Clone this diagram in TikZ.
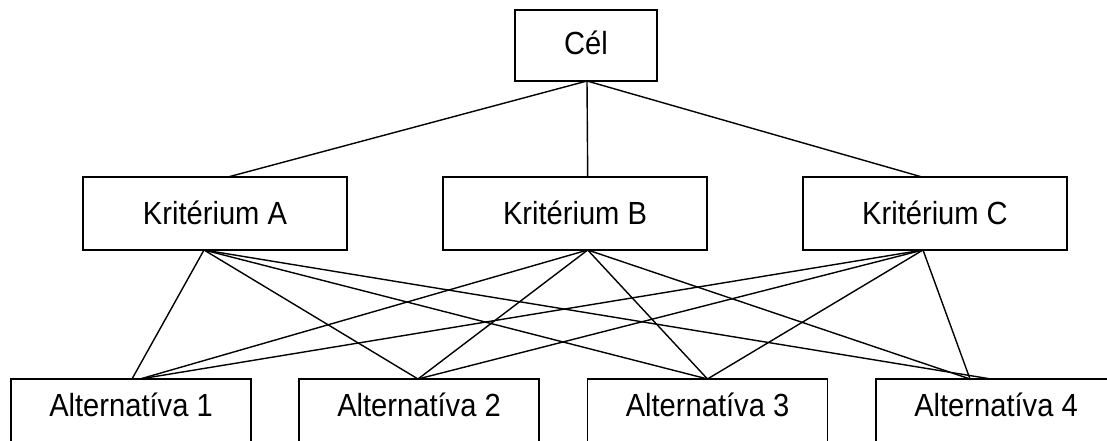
\documentclass[tikz,border=0pt]{standalone}
\usepackage{fontspec}
\setmainfont{Liberation Sans}[FakeStretch=0.91]
\usetikzlibrary{calc}
\begin{document}
\begin{tikzpicture}[x=0.75pt,y=-0.75pt,
  box/.style={draw=black,line width=1.2pt,fill=white,inner sep=0pt,outer sep=0pt,
    font=\fontsize{24pt}{28pt}\selectfont,align=center},
  goalbox/.style={box,minimum width=106.5pt,minimum height=53.25pt,text height=17pt,text depth=3.75pt},
  critbox/.style={box,minimum width=198pt,minimum height=54.75pt,text height=17pt,text depth=0pt},
  altbox/.style={box,minimum width=180pt,minimum height=54pt,text height=17pt,text depth=15pt},
  link/.style={draw=black,line width=1.05pt}]
\useasboundingbox (0,0) rectangle (1107,441);
\clip (0,0) rectangle (1107,441);

% goal, criteria and alternatives
\node[goalbox] (cel) at (586,45.5) {Cél};
\node[critbox] (ka) at (215,213.5) {Kritérium A};
\node[critbox] (kb) at (575,213.5) {Kritérium B};
\node[critbox] (kc) at (935,213.5) {Kritérium C};
\node[altbox] (a1) at (131,415) {Alternatíva 1};
\node[altbox] (a2) at (419,415) {Alternatíva 2};
\node[altbox] (a3) at (707.5,415) {Alternatíva 3};
\node[altbox] (a4) at (996,415) {Alternatíva 4};

% goal to criteria
\draw[link] ($(cel.south)+(1,0)$) -- ($(ka.north)+(13,0)$);
\draw[link] ($(cel.south)+(1,0)$) -- ($(kb.north)+(12.7,0)$);
\draw[link] ($(cel.south)+(1,0)$) -- ($(kc.north)+(-13,0)$);

% criterion A to alternatives
\draw[link] ($(ka.south)+(-11,0)$) -- ($(a1.north)+(1,0)$);
\draw[link] ($(ka.south)+(-11,0)$) -- ($(a2.north)+(-1,0)$);
\draw[link] ($(ka.south)+(-11,0)$) -- (a3.north);
\draw[link] ($(ka.south)+(-11,0)$) -- ($(a4.north)+(-5,0)$);

% criterion B to alternatives
\draw[link] ($(kb.south)+(12.7,0)$) -- ($(a1.north)+(9,0)$);
\draw[link] ($(kb.south)+(12.7,0)$) -- ($(a2.north)+(-1,0)$);
\draw[link] ($(kb.south)+(12.7,0)$) -- (a3.north);
\draw[link] ($(kb.south)+(12.7,0)$) -- ($(a4.north)+(-26,0)$);

% criterion C to alternatives
\draw[link] ($(kc.south)+(-12,0)$) -- ($(a1.north)+(9,0)$);
\draw[link] ($(kc.south)+(-12,0)$) -- ($(a2.north)+(-1,0)$);
\draw[link] ($(kc.south)+(-12,0)$) -- (a3.north);
\draw[link] ($(kc.south)+(-12,0)$) -- ($(a4.north)+(-26,0)$);
\end{tikzpicture}
\end{document}
